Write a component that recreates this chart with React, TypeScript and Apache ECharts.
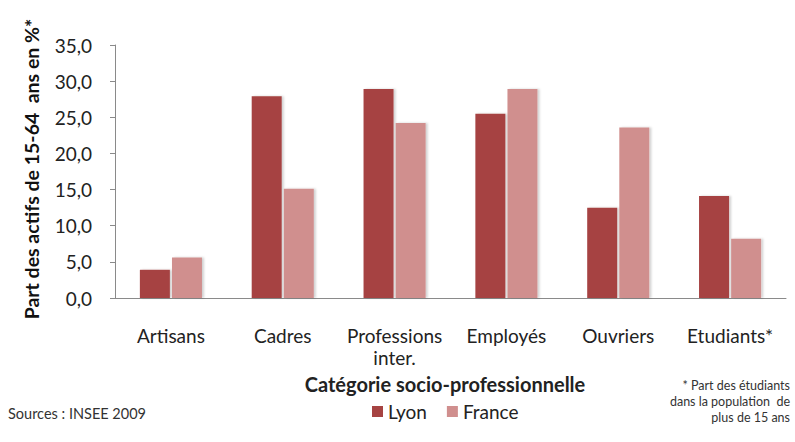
import React, { useEffect, useRef } from "react";
import * as echarts from "echarts";

const categories = ["Artisans", "Cadres", "Professions\ninter.", "Employés", "Ouvriers", "Etudiants*"];
const lyon = [3.9, 27.9, 28.9, 25.5, 12.5, 14.1];
const france = [5.6, 15.1, 24.2, 28.9, 23.6, 8.2];
const seriesNames = ["Lyon", "France"];
const footnoteLines = ["* Part des étudiants", "dans la population  de", "plus de 15 ans"];

const FONT = "Lato, 'Open Sans', sans-serif";

export default function App() {
  const ref = useRef<HTMLDivElement>(null);
  useEffect(() => {
    if (!ref.current) return;
    const chart = echarts.init(ref.current, undefined, { renderer: "svg" });
    const shadow = { shadowColor: "rgba(0,0,0,0.18)", shadowBlur: 2, shadowOffsetX: 2, shadowOffsetY: 0 };
    chart.setOption({
      animation: false,
      backgroundColor: "#ffffff",
      textStyle: { fontFamily: FONT },
      grid: { left: 115, right: 9, top: 45, bottom: 144, containLabel: false },
      legend: {
        data: seriesNames,
        left: 367,
        top: 397,
        itemWidth: 11,
        itemHeight: 11,
        itemGap: 20,
        icon: "rect",
        textStyle: { fontFamily: FONT, fontSize: 19, color: "#222" },
      },
      xAxis: {
        type: "category",
        data: categories,
        axisLine: { lineStyle: { color: "#8a8a8a", width: 1 } },
        axisTick: { show: false },
        axisLabel: { interval: 0, fontFamily: FONT, fontSize: 19, color: "#222", margin: 26, lineHeight: 22 },
      },
      yAxis: {
        type: "value",
        min: 0,
        max: 35,
        interval: 5,
        splitLine: { show: false },
        axisLine: { show: true, lineStyle: { color: "#8a8a8a", width: 1 } },
        axisTick: { show: true, inside: false, length: 5, lineStyle: { color: "#8a8a8a" } },
        axisLabel: {
          fontFamily: FONT,
          fontSize: 19,
          color: "#222",
          margin: 23,
          formatter: (v: number) => v.toFixed(1).replace(".", ","),
        },
      },
      series: [
        {
          name: seriesNames[0],
          type: "bar",
          data: lyon,
          barWidth: 30,
          barGap: "7%",
          itemStyle: { color: "#a64342", ...shadow },
        },
        {
          name: seriesNames[1],
          type: "bar",
          data: france,
          barWidth: 30,
          itemStyle: { color: "#d08f8e", ...shadow },
        },
      ],
      graphic: [
        {
          type: "text",
          x: 31,
          y: 169,
          rotation: Math.PI / 2,
          style: {
            text: "Part des actifs de 15-64  ans en %*",
            fontFamily: FONT,
            fontSize: 19.5,
            fontWeight: "bold",
            fill: "#111",
            align: "center",
            verticalAlign: "middle",
          },
        },
        {
          type: "text",
          x: 445,
          y: 384,
          style: {
            text: "Catégorie socio-professionnelle",
            fontFamily: FONT,
            fontSize: 20,
            fontWeight: "bold",
            fill: "#222",
            align: "center",
            verticalAlign: "middle",
          },
        },
        {
          type: "text",
          x: 8,
          y: 413,
          style: {
            text: "Sources : INSEE 2009",
            fontFamily: FONT,
            fontSize: 14.5,
            fill: "#333",
            align: "left",
            verticalAlign: "middle",
          },
        },
        ...footnoteLines.map((t, i) => ({
          type: "text",
          x: 790,
          y: 385 + i * 16,
          style: {
            text: t,
            fontFamily: FONT,
            fontSize: 12.5,
            fill: "#333",
            align: "right",
            verticalAlign: "middle",
          },
        })),
      ],
    });
    return () => chart.dispose();
  }, []);
  return <div ref={ref} style={{ width: 795, height: 442, position: "absolute", left: 0, top: 0 }} />;
}
